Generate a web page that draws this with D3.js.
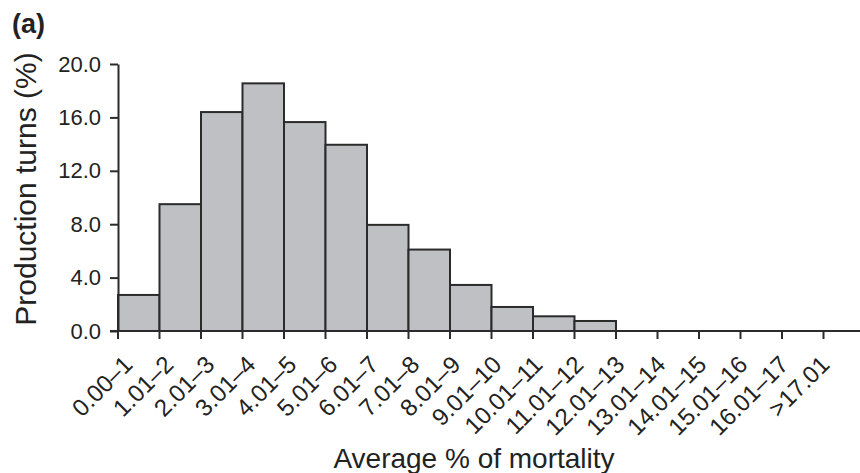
<!DOCTYPE html>
<html>
<head>
<meta charset="utf-8">
<script src="https://cdn.jsdelivr.net/npm/d3@7"></script>
<style>
  html, body { margin: 0; padding: 0; background: #fff; }
  svg { display: block; font-family: "Liberation Sans", Arial, Helvetica, sans-serif; }
</style>
</head>
<body>
<svg id="chart" width="860" height="473"></svg>
<script>
// Mortality classes (% of birds lost per production turn)
const categories = ["0.00\u20131", "1.01\u20132", "2.01\u20133", "3.01\u20134", "4.01\u20135",
  "5.01\u20136", "6.01\u20137", "7.01\u20138", "8.01\u20139", "9.01\u201310",
  "10.01\u201311", "11.01\u201312", "12.01\u201313", "13.01\u201314", "14.01\u201315",
  "15.01\u201316", "16.01\u201317", ">17.01"];
// Share of production turns in each class (%)
const turnsPct = [2.7, 9.5, 16.4, 18.55, 15.65, 13.95, 7.95, 6.1, 3.45, 1.8, 1.1, 0.75,
  0, 0, 0, 0, 0, 0];
const yTicks = [0, 4, 8, 12, 16, 20];

const svg = d3.select("#chart");
const plot = { left: 118, top: 64, bottom: 331, right: 865 };

const x = d3.scaleBand().domain(categories).range([plot.left, plot.right]).padding(0);
const y = d3.scaleLinear().domain([0, 20]).range([plot.bottom, plot.top]);
// Where each slanted class label ends
const labelX = d3.scalePoint().domain(categories).range([134, 831]);

// Bars
svg.append("g")
  .selectAll("rect")
  .data(categories)
  .join("rect")
  .attr("x", d => x(d))
  .attr("y", (d, i) => y(turnsPct[i]))
  .attr("width", x.bandwidth())
  .attr("height", (d, i) => y(0) - y(turnsPct[i]))
  .attr("fill", "#bfc0c4")
  .attr("stroke", "#2b2b2b")
  .attr("stroke-width", 2);

// Y axis
const yAxis = svg.append("g")
  .attr("transform", `translate(${plot.left},0)`)
  .call(d3.axisLeft(y).tickValues(yTicks).tickFormat(d3.format(".1f"))
    .tickSize(8).tickSizeOuter(0).tickPadding(9));
yAxis.select(".domain").attr("stroke", "#2b2b2b").attr("stroke-width", 2);
yAxis.selectAll(".tick line").attr("stroke", "#2b2b2b").attr("stroke-width", 2);
yAxis.selectAll(".tick text")
  .attr("font-size", 22)
  .attr("fill", "#222")
  .attr("font-family", "Liberation Sans, Arial, sans-serif");

// X axis: baseline, plus a tick at the left edge of every class
const xg = svg.append("g");
xg.append("line")
  .attr("x1", plot.left - 8).attr("x2", 860)
  .attr("y1", y(0)).attr("y2", y(0))
  .attr("stroke", "#2b2b2b").attr("stroke-width", 2);
xg.selectAll("line.tick")
  .data(categories)
  .join("line")
  .attr("class", "tick")
  .attr("x1", d => x(d)).attr("x2", d => x(d))
  .attr("y1", y(0)).attr("y2", y(0) + 8)
  .attr("stroke", "#2b2b2b").attr("stroke-width", 2);
xg.selectAll("text")
  .data(categories)
  .join("text")
  .attr("transform", d => `translate(${labelX(d)},${y(0) + 35}) rotate(-45)`)
  .attr("text-anchor", "end")
  .attr("font-size", 24)
  .attr("fill", "#222")
  .text(d => d);

// Axis titles
svg.append("text")
  .attr("x", 474).attr("y", 468)
  .attr("text-anchor", "middle")
  .attr("font-size", 28)
  .attr("fill", "#222")
  .text("Average % of mortality");

svg.append("text")
  .attr("transform", "translate(36,189) rotate(-90)")
  .attr("text-anchor", "middle")
  .attr("font-size", 30)
  .attr("fill", "#222")
  .text("Production turns (%)");

// Panel letter
svg.append("text")
  .attr("x", 12).attr("y", 33)
  .attr("font-size", 27)
  .attr("font-weight", "bold")
  .attr("fill", "#222")
  .text("(a)");
</script>
</body>
</html>
